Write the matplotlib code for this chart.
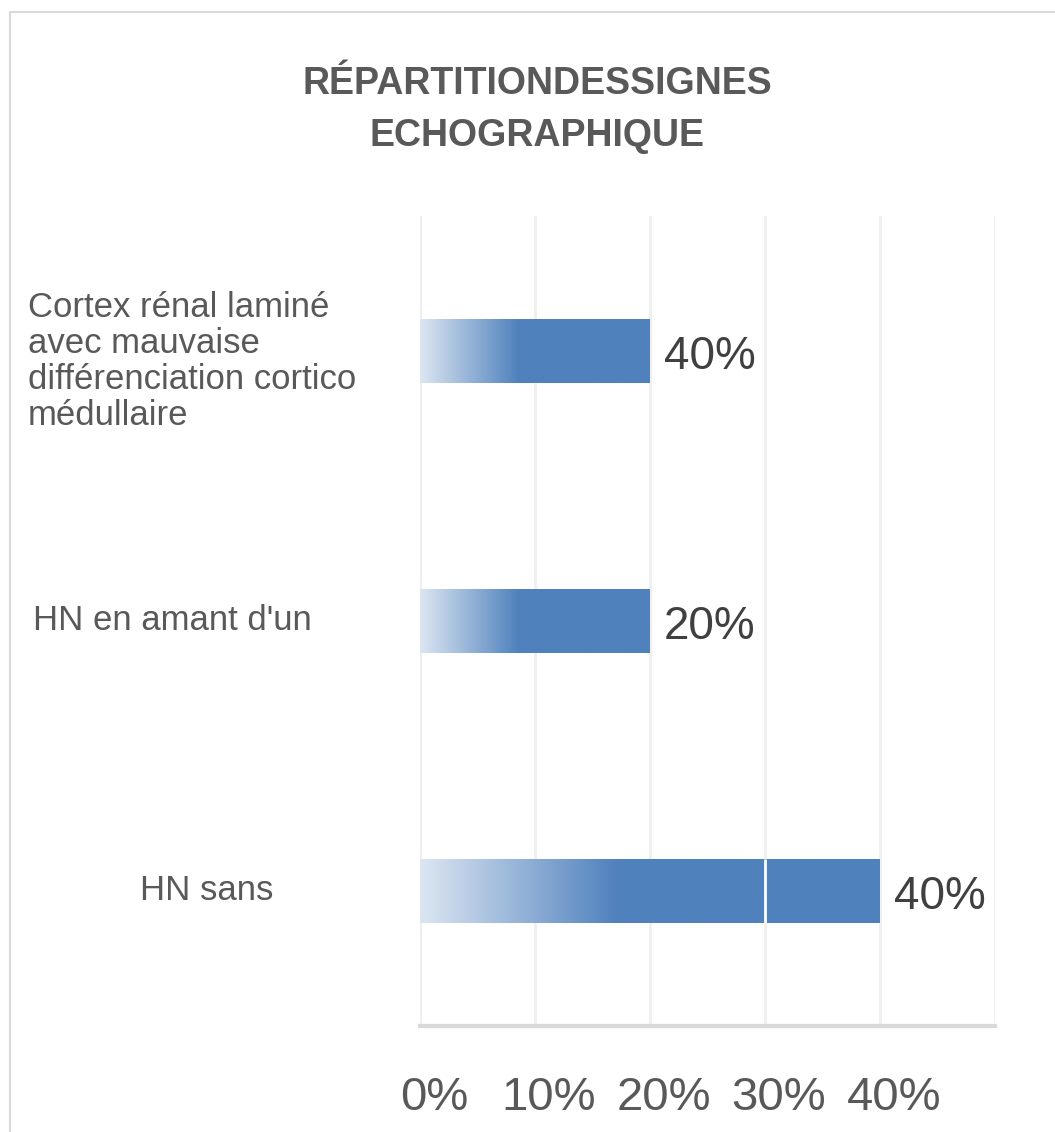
import matplotlib
matplotlib.use("Agg")
import matplotlib.pyplot as plt
import matplotlib.transforms as mtransforms
from matplotlib.patches import Rectangle
from matplotlib.colors import to_rgb
import numpy as np

# Données (de bas en haut)
categories = ["HN sans", "HN en amant d'un",
              "Cortex rénal laminé\navec mauvaise\ndifférenciation cortico\nmédullaire"]
values = [40, 20, 20]
value_labels = ["40%", "20%", "40%"]
xticks = [0, 10, 20, 30, 40]
xtick_labels = ["0%", "10%", "20%", "30%", "40%"]
title = "RÉPARTITIONDESSIGNES\nECHOGRAPHIQUE"

BLEU = "#4f81bd"
BLEU_CL = "#dce6f2"
GRIS_TXT = "#595959"
GRIS_VAL = "#404040"
GRILLE = "#efefef"
POLICE = ["Liberation Sans", "DejaVu Sans"]

W, H = 1055, 1132
fig = plt.figure(figsize=(W / 100, H / 100), dpi=100)

# cadre du graphique
fig.patches.append(Rectangle((10 / W, -0.05), 1.2, 1 - 12 / H + 0.05, transform=fig.transFigure,
                             fill=False, edgecolor="#d9d9d9", linewidth=1.5))

ax = fig.add_axes([420 / W, 1 - 1026 / H, 575 / W, 810 / H])

ypos = np.arange(len(categories))
bh = 0.235

# grille
for gx in [0, 10, 20, 30, 40, 50]:
    ax.axvline(gx, color=GRILLE, lw=2, zorder=0)

# barres en dégradé
c0 = np.array(to_rgb(BLEU_CL))
c1 = np.array(to_rgb(BLEU))
t = np.clip(np.linspace(0, 1, 256) / 0.43, 0, 1)
grad = (c0[None, :] + (c1 - c0)[None, :] * t[:, None])[None, :, :]
bars = ax.barh(ypos, values, height=bh, color="none", edgecolor="none", zorder=2)
for b, v, y in zip(bars, values, ypos):
    im = ax.imshow(grad, extent=[0, v, y - bh / 2, y + bh / 2], aspect="auto",
                   interpolation="bilinear", zorder=2)
    im.set_clip_path(b)
    if v > 30:
        ax.vlines(30, y - bh / 2, y + bh / 2, color="white", lw=2, zorder=3)
ax.set_xlim(0, 50)
ax.set_ylim(-0.5, 2.5)

# étiquettes de valeurs
for v, y, lab in zip(values, ypos, value_labels):
    ax.annotate(lab, (v, y), xytext=(10, -4), textcoords="offset points",
                ha="left", va="center", fontsize=33, color=GRIS_VAL, family=POLICE)

# axes
for s in ["top", "right", "left"]:
    ax.spines[s].set_visible(False)
ax.spines["bottom"].set_color("#d9d9d9")
ax.spines["bottom"].set_linewidth(3)
ax.set_yticks([])
ax.set_xticks(xticks)
ax.set_xticklabels(xtick_labels, fontsize=34, color=GRIS_TXT, family=POLICE)
ax.tick_params(axis="x", length=0, pad=36)
off = mtransforms.ScaledTranslation(14 / 100, 0, fig.dpi_scale_trans)
for lbl in ax.get_xticklabels():
    lbl.set_transform(lbl.get_transform() + off)

# étiquettes des catégories
cat_x = [140, 33, 28]
cat_dy = [0.0, 0.0, -0.04]
trans = mtransforms.blended_transform_factory(fig.transFigure, ax.transData)
for lab, y, cx, dy in zip(categories, ypos, cat_x, cat_dy):
    fig.text(cx / W, y + dy, lab, transform=trans, ha="left", va="center",
             fontsize=25, color=GRIS_TXT, linespacing=1.12, family=POLICE)

# titre
fig.text(537 / W, 1 - 110 / H, title, ha="center", va="center", fontsize=27,
         fontweight="bold", color=GRIS_TXT, linespacing=1.6, family=POLICE)

fig.savefig("out.png", dpi=100)
